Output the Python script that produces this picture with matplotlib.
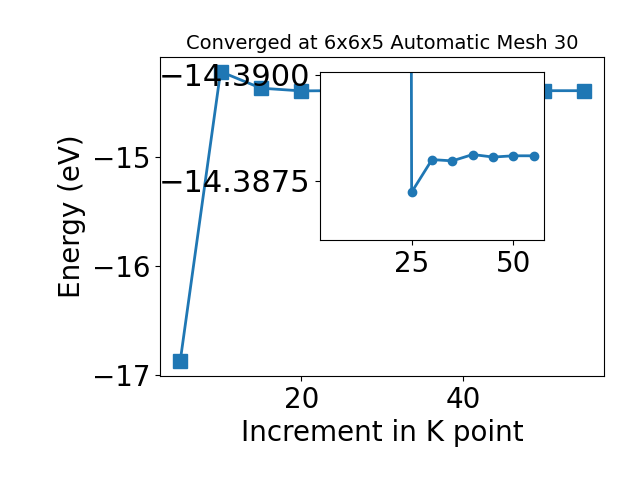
import numpy as np
import matplotlib
matplotlib.use('Agg')
import matplotlib.pyplot as plt

# k-point increments and total energies (eV)
kpoints = [5, 10, 15, 20, 25, 30, 35, 40, 45, 50, 55]
energy = [-16.872, -14.213, -14.365, -14.39, -14.38723, -14.3880,
          -14.38797, -14.38812, -14.38806, -14.38809, -14.38809]

# series shown in the zoomed inset
inset_kpoints = [20, 25, 30, 35, 40, 45, 50, 55]
inset_energy = [-14.6, -14.38723, -14.3880, -14.38797, -14.38812,
                -14.38806, -14.38809, -14.38809]

fig = plt.figure(figsize=(6.4, 4.8), dpi=100)
ax = fig.add_axes([0.25, 0.217, 0.694, 0.664])
ax.plot(kpoints, energy, marker='s', markersize=10, linewidth=2)
ax.set_title('Converged at 6x6x5 Automatic Mesh 30', fontsize=14)
ax.set_xlabel('Increment in K point', fontsize=20)
ax.set_ylabel('Energy (eV)', fontsize=20)
ax.tick_params(labelsize=20)

# zoomed inset
axins = fig.add_axes([0.5, 0.5, 0.35, 0.35])
axins.plot(inset_kpoints, inset_energy, marker='o', markersize=6, linewidth=2)
axins.set_xlim(ax.get_xlim())
axins.set_ylim(-14.3861, -14.39007)
axins.set_yticks([-14.3900, -14.3875])
axins.tick_params(axis='x', labelsize=20)
axins.tick_params(axis='y', labelsize=22)

fig.savefig('out.png')
